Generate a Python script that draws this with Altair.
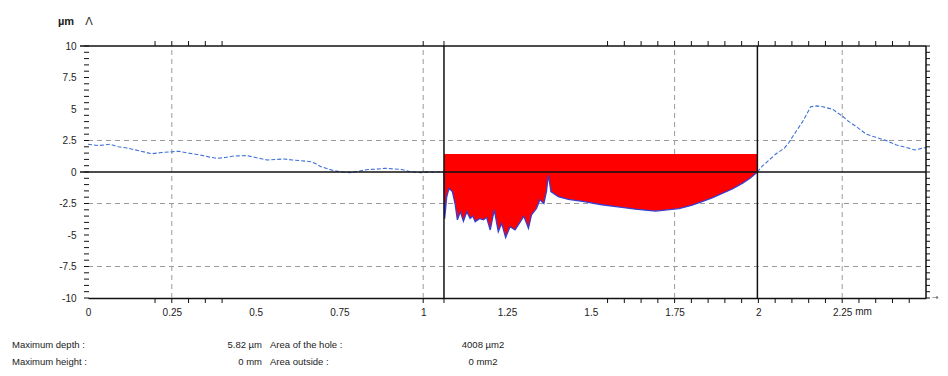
import altair as alt
import pandas as pd

# ---- profile data (mm, µm) ----
x_mm = [0.00, 0.03, 0.066, 0.09, 0.117, 0.15, 0.19, 0.22, 0.25, 0.27, 0.30, 0.335, 0.36, 0.385,
        0.41, 0.435, 0.475, 0.50, 0.535, 0.56, 0.585, 0.61, 0.635, 0.665, 0.68, 0.695, 0.715,
        0.735, 0.76, 0.785, 0.81, 0.835, 0.86, 0.885, 0.91, 0.935, 0.965, 0.995, 1.02, 1.04,
        1.054, 1.062,
        1.064, 1.07, 1.077, 1.087, 1.095, 1.102, 1.111, 1.12, 1.13, 1.14, 1.148, 1.155, 1.168,
        1.18, 1.189, 1.20, 1.212, 1.224, 1.234, 1.246, 1.259, 1.274, 1.29, 1.30, 1.314, 1.323,
        1.338, 1.348, 1.36, 1.368, 1.373, 1.378, 1.381, 1.403, 1.433, 1.48, 1.533, 1.593, 1.633,
        1.693, 1.763, 1.80, 1.832, 1.862, 1.892, 1.922, 1.952, 1.975, 1.997,
        2.012, 2.03, 2.052, 2.077, 2.09, 2.102, 2.132, 2.156, 2.175, 2.192, 2.222, 2.252, 2.27,
        2.292, 2.322, 2.35, 2.382, 2.412, 2.44, 2.467, 2.50]
y_um = [2.2, 2.1, 2.2, 2.0, 1.9, 1.7, 1.45, 1.55, 1.6, 1.65, 1.5, 1.35, 1.2, 1.08,
        1.15, 1.27, 1.3, 1.15, 0.95, 1.0, 1.03, 0.95, 0.9, 0.82, 0.65, 0.42, 0.25,
        0.1, 0.0, -0.05, 0.08, 0.2, 0.22, 0.3, 0.25, 0.2, 0.0, -0.05, 0.0, -0.02,
        0.05, 0.0,
        -3.7, -2.0, -1.3, -1.56, -2.5, -3.8, -3.15, -3.9, -3.15, -3.68, -3.5, -3.94, -3.7,
        -3.8, -3.6, -4.6, -3.0, -4.74, -4.07, -5.2, -4.34, -4.6, -3.94, -3.5, -4.47, -3.4,
        -2.9, -2.2, -2.5, -1.5, -0.24, -1.0, -1.56, -1.96, -2.17, -2.35, -2.6, -2.8, -2.95,
        -3.1, -2.9, -2.65, -2.35, -2.05, -1.7, -1.35, -0.9, -0.5, 0.0,
        0.48, 0.9, 1.43, 1.88, 2.3, 2.8, 4.0, 5.18, 5.25, 5.18, 4.97, 4.4, 4.0,
        3.6, 3.0, 2.75, 2.49, 2.14, 1.95, 1.75, 1.95]

hole_start = 1.062
hole_end = 1.997
hole_top = 1.43

x_labels = [0, 0.25, 0.5, 0.75, 1, 1.25, 1.5, 1.75, 2, 2.25]
x_minor = [0.2, 0.25, 0.3, 0.35, 0.4, 1.0, 1.062, 1.55, 1.6, 1.65, 1.7, 1.75, 1.8, 1.85,
           1.9, 1.95, 2.0, 2.05, 2.1, 2.15, 2.2, 2.25, 2.3, 2.35, 2.4, 2.45]
y_labels = [-10, -7.5, -5, -2.5, 0, 2.5, 5, 7.5, 10]
y_minor = [-10, -9.5, -9, -8.5, -8, -7.5, -7, -6.5, -6, -5.5, -5, -4.5, -4, -3.5, -3, -2.5,
           -2, -1.5, -1, -0.5, 0, 0.5, 1, 1.5, 2, 2.5, 3, 3.5, 4, 4.5, 5, 5.5, 6, 6.5, 7,
           7.5, 8, 8.5, 9, 9.5, 10]
grid_x = [0.25, 1.0, 1.75, 2.25]
grid_y = [2.5, -2.5, -7.5]
cursor_x = [hole_start, hole_end]

stat_names_left = ["Maximum depth :", "Maximum height :"]
stat_values_left = ["5.82 µm", "0 mm"]
stat_names_right = ["Area of the hole :", "Area outside :"]
stat_values_right = ["4008 µm2", "0 mm2"]

FONT = "Liberation Sans"
W, H = 838, 252
INK = "#111"

df = pd.DataFrame({"x": x_mm, "y": y_um})
df_hole = df[(df.x >= hole_start) & (df.x <= hole_end)].copy()
df_hole["top"] = hole_top
df_out = pd.concat([df[df.x <= hole_start].assign(seg="left"),
                    df[df.x >= hole_end].assign(seg="right")])

xs = alt.Scale(domain=[0, 2.5], nice=False, zero=False)
ys = alt.Scale(domain=[-10, 10], nice=False, zero=False)

num_label = "replace(format(datum.value, '~g'), '\u2212', '-')"
x_axis = alt.Axis(orient="bottom", values=x_labels, labelExpr=num_label, ticks=False,
                  labelPadding=9, domain=True, domainColor=INK, domainWidth=1.5, grid=False,
                  title=None, labelFont=FONT, labelFontSize=10, labelColor="#222",
                  labelFlush=False, labelOverlap=False)
y_axis = alt.Axis(orient="left", values=y_labels, labelExpr=num_label, ticks=False,
                  labelPadding=12, domain=False, grid=False, title=None,
                  labelFont=FONT, labelFontSize=10, labelColor="#222",
                  labelFlush=False, labelOverlap=False)


# every layer carries the same axis definition so the merged axis is exact
def X(f):
    return alt.X(f, scale=xs, axis=x_axis)


def Y(f):
    return alt.Y(f, scale=ys, axis=y_axis)


def XD(v):
    return alt.datum(v, scale=xs, axis=x_axis)


def YD(v):
    return alt.datum(v, scale=ys, axis=y_axis)


gx = alt.Chart(pd.DataFrame({"gx": grid_x})).mark_rule(
    color="#9a9a9a", strokeDash=[5, 4], strokeWidth=1).encode(
    x=X("gx:Q"), y=YD(-10), y2=alt.datum(10))
gy = alt.Chart(pd.DataFrame({"gy": grid_y})).mark_rule(
    color="#9a9a9a", strokeDash=[5, 4], strokeWidth=1).encode(
    y=Y("gy:Q"), x=XD(0), x2=alt.datum(2.5))

area = alt.Chart(df_hole).mark_area(color="#ff0000", opacity=1, interpolate="linear").encode(
    x=X("x:Q"), y=Y("y:Q"), y2="top:Q")

# frame lines: zero line, top line, right line
hlines = alt.Chart(pd.DataFrame({"z": [0, 10]})).mark_rule(color=INK, strokeWidth=1.4).encode(
    y=Y("z:Q"), x=alt.value(-8), x2=alt.value(W))
vline_r = alt.Chart(pd.DataFrame({"r": [2.5]})).mark_rule(color=INK, strokeWidth=1.5).encode(
    x=X("r:Q"), y=YD(-10), y2=alt.datum(10))

line_out = alt.Chart(df_out).mark_line(color="#3f72d8", strokeWidth=1.1, strokeDash=[4, 2]).encode(
    x=X("x:Q"), y=Y("y:Q"), detail="seg:N", order="x:Q")
line_hole = alt.Chart(df_hole).mark_line(color="#3a3ccf", strokeWidth=1.3).encode(
    x=X("x:Q"), y=Y("y:Q"), order="x:Q")

cursors = alt.Chart(pd.DataFrame({"cx": cursor_x})).mark_rule(color=INK, strokeWidth=1.5).encode(
    x=X("cx:Q"), y=YD(-10), y2=alt.datum(10))

# tick marks
tick_df_x = pd.DataFrame({"tx": x_minor})
tick_df_y = pd.DataFrame({"ty": y_minor})
ticks_bottom = alt.Chart(tick_df_x).mark_rule(color=INK, strokeWidth=1).encode(
    x=X("tx:Q"), y=alt.value(H), y2=alt.value(H + 5))
ticks_top = alt.Chart(tick_df_x).mark_rule(color=INK, strokeWidth=1).encode(
    x=X("tx:Q"), y=alt.value(0), y2=alt.value(-5))
ticks_left = alt.Chart(tick_df_y).mark_rule(color=INK, strokeWidth=1).encode(
    y=Y("ty:Q"), x=alt.value(-4), x2=alt.value(1))
ticks_right = alt.Chart(tick_df_y).mark_rule(color=INK, strokeWidth=1).encode(
    y=Y("ty:Q"), x=alt.value(W), x2=alt.value(W + 4))

mm = alt.Chart(pd.DataFrame({"t": ["mm"]})).mark_text(
    align="left", baseline="top", font=FONT, fontSize=10, color="#222", dx=13, dy=9).encode(
    x=XD(2.25), y=alt.value(H), text="t:N")

unit = alt.Chart(pd.DataFrame({"t": ["µm"]})).mark_text(
    align="left", baseline="middle", font=FONT, fontSize=11, fontWeight="bold", color="#222").encode(
    x=alt.value(-30), y=alt.value(-24), text="t:N")
arrow = alt.Chart(pd.DataFrame({"t": ["Λ"]})).mark_text(
    align="center", baseline="middle", font="DejaVu Sans", fontSize=11, color="#333").encode(
    x=alt.value(1), y=alt.value(-24), text="t:N")
arrow_r = alt.Chart(pd.DataFrame({"t": ["→"]})).mark_text(
    align="left", baseline="middle", font="DejaVu Sans", fontSize=8, color="#555").encode(
    x=alt.value(W + 6), y=alt.value(H), text="t:N")


def stat(lines, xpos, align):
    return alt.Chart(pd.DataFrame({"t": ["\n".join(lines)]})).mark_text(
        align=align, baseline="middle", font=FONT, fontSize=9.5, color="#222",
        lineBreak="\n", lineHeight=17).encode(x=alt.value(xpos), y=alt.value(299), text="t:N")


stats = (stat(stat_names_left, -76, "left") + stat(stat_values_left, 174, "right")
         + stat(stat_names_right, 182, "left") + stat(stat_values_right, 395, "center"))

chart = alt.layer(gx, gy, area, line_out, line_hole, hlines, vline_r, cursors,
                  ticks_bottom, ticks_top, ticks_left, ticks_right,
                  mm, unit, arrow, arrow_r, stats).properties(
    width=W, height=H, autosize=alt.AutoSizeParams(type="none"),
    padding={"left": 80, "top": 38, "right": 14, "bottom": 70}, background="white"
).configure_view(stroke=None)

chart.save("out.html", embed_options={"renderer": "svg", "actions": False})
